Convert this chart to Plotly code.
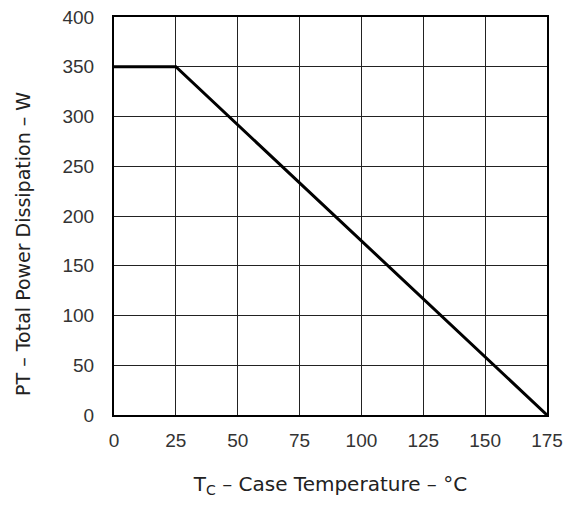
import plotly.graph_objects as go

case_temp = [0, 25, 175]
power = [350, 350, 0]
x_ticks = [0, 25, 50, 75, 100, 125, 150, 175]
y_ticks = [0, 50, 100, 150, 200, 250, 300, 350, 400]
x_title = "T<sub>C</sub> – Case Temperature – °C"
y_title = "PT – Total Power Dissipation – W"

fig = go.Figure()
fig.add_trace(go.Scatter(x=case_temp, y=power, mode="lines",
                         line=dict(color="black", width=3), showlegend=False))

font = dict(family="Liberation Sans, Arial, sans-serif", size=17, color="#333")
fig.update_layout(
    width=566, height=499,
    margin=dict(l=106, r=27, t=9, b=92),
    paper_bgcolor="white", plot_bgcolor="white",
    font=font,
    xaxis=dict(range=[0, 175], tickvals=x_ticks, showgrid=True, gridcolor="#222", gridwidth=1,
               showline=True, linecolor="black", linewidth=2, mirror=True, zeroline=False,
               ticks="outside", ticklen=7, tickcolor="rgba(0,0,0,0)", tickfont=dict(size=19),
               automargin=False, ticklabeloverflow="allow",
               title=dict(text=x_title, standoff=27,
                          font=dict(family="DejaVu Sans, sans-serif", size=20, color="#222"))),
    yaxis=dict(range=[0, 400], tickvals=y_ticks, showgrid=True, gridcolor="#222", gridwidth=1,
               showline=True, linecolor="black", linewidth=2, mirror=True, zeroline=False,
               ticks="outside", ticklen=14, tickcolor="rgba(0,0,0,0)", tickfont=dict(size=19),
               automargin=False, ticklabeloverflow="allow"),
    annotations=[dict(text=y_title, textangle=-90, xref="paper", yref="paper",
                      x=-0.21, y=0.43, xanchor="center", yanchor="middle", showarrow=False,
                      font=dict(family="DejaVu Sans, sans-serif", size=19, color="#222"))],
)
fig.write_html("out.html")
